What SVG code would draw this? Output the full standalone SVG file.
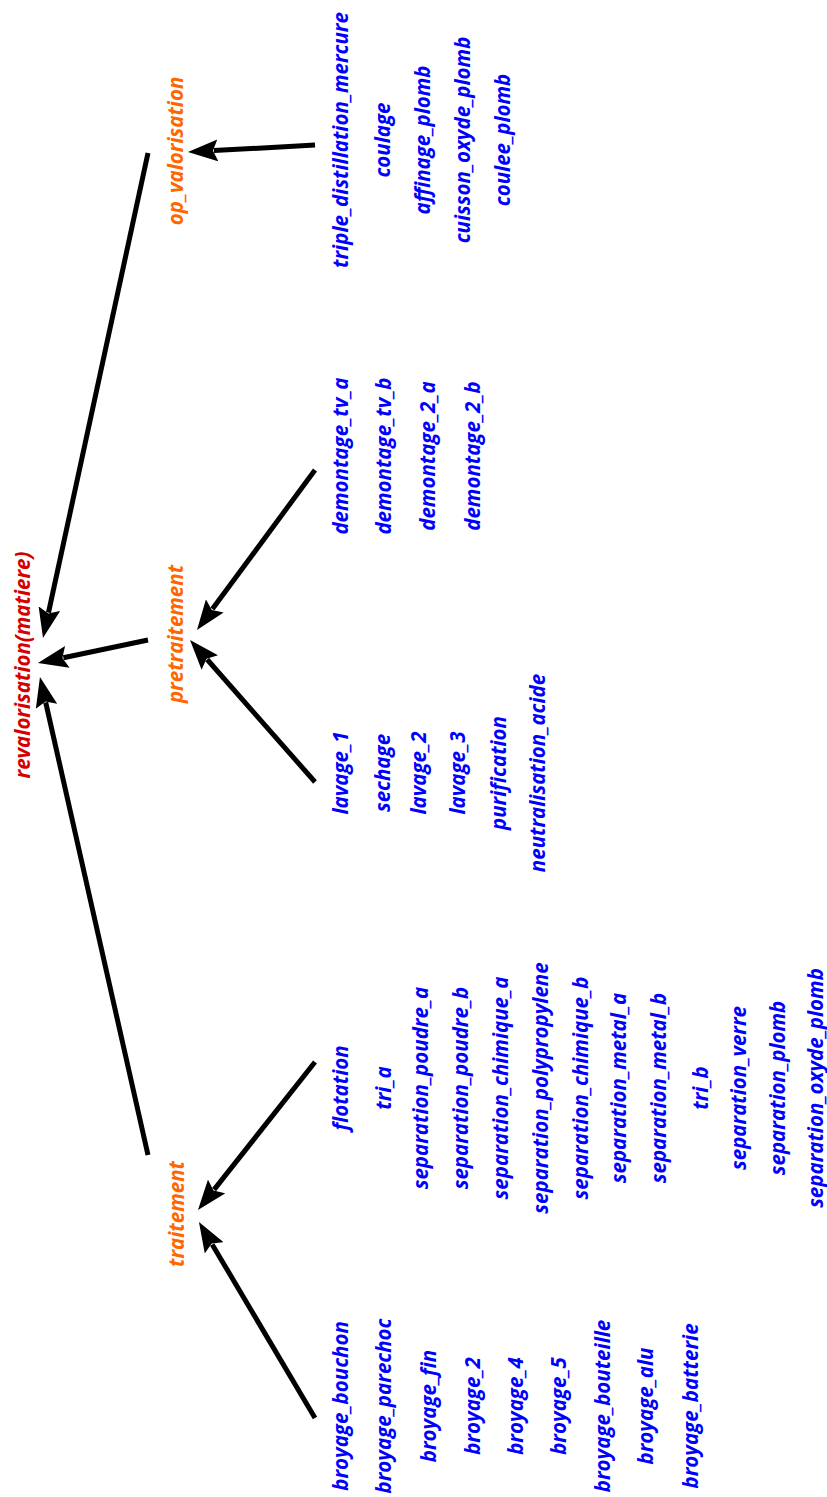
<svg xmlns="http://www.w3.org/2000/svg" width="827" height="1497" viewBox="0 0 827 1497">
<style>
text{font-family:"Open Sans","DejaVu Sans",sans-serif;font-weight:bold;font-style:italic;font-size:20.5px;text-anchor:middle;dominant-baseline:central}
.root{fill:#d40000}
.mid{fill:#ff6600}
.leaf{fill:#0000ff}
.edge{stroke:#000;stroke-width:5;fill:none}
</style>
<defs>
<marker id="ah" viewBox="0 -11 30 22" refX="4" refY="0" markerWidth="30" markerHeight="22" markerUnits="userSpaceOnUse" orient="auto">
<path d="M0,-11 L30,0 L0,11 L5,0 z" fill="#000"/>
</marker>
</defs>
<rect width="827" height="1497" fill="#fff"/>
<g id="connectors">
<line class="edge" x1="315" y1="145" x2="213.9" y2="150.6" marker-end="url(#ah)"/>
<line class="edge" x1="148" y1="153" x2="48.5" y2="612.6" marker-end="url(#ah)"/>
<line class="edge" x1="148" y1="640" x2="63.4" y2="657.7" marker-end="url(#ah)"/>
<line class="edge" x1="148" y1="1155" x2="45.7" y2="702.4" marker-end="url(#ah)"/>
<line class="edge" x1="315" y1="470" x2="212.4" y2="609.1" marker-end="url(#ah)"/>
<line class="edge" x1="315" y1="782" x2="207.2" y2="659.5" marker-end="url(#ah)"/>
<line class="edge" x1="315" y1="1062" x2="214.1" y2="1189.6" marker-end="url(#ah)"/>
<line class="edge" x1="315" y1="1418" x2="212.2" y2="1244.4" marker-end="url(#ah)"/>
</g>
<g id="revalorisation"><text class="root" transform="translate(22,665) rotate(-90)">revalorisation(matiere)</text></g>
<g id="op_valorisation"><text class="mid" transform="translate(175,151) rotate(-90)">op_valorisation</text></g>
<g id="pretraitement"><text class="mid" transform="translate(175,634) rotate(-90)">pretraitement</text></g>
<g id="traitement"><text class="mid" transform="translate(176,1214) rotate(-90)">traitement</text></g>
<g id="op_valorisation_leaves">
<text class="leaf" transform="translate(340,140) rotate(-90)">triple_distillation_mercure</text>
<text class="leaf" transform="translate(382,140) rotate(-90)">coulage</text>
<text class="leaf" transform="translate(422,140) rotate(-90)">affinage_plomb</text>
<text class="leaf" transform="translate(462,140) rotate(-90)">cuisson_oxyde_plomb</text>
<text class="leaf" transform="translate(502,140) rotate(-90)">coulee_plomb</text>
</g>
<g id="demontage_leaves">
<text class="leaf" transform="translate(340,456) rotate(-90)">demontage_tv_a</text>
<text class="leaf" transform="translate(383,456) rotate(-90)">demontage_tv_b</text>
<text class="leaf" transform="translate(427,456) rotate(-90)">demontage_2_a</text>
<text class="leaf" transform="translate(472,456) rotate(-90)">demontage_2_b</text>
</g>
<g id="lavage_leaves">
<text class="leaf" transform="translate(340,773) rotate(-90)">lavage_1</text>
<text class="leaf" transform="translate(382,773) rotate(-90)">sechage</text>
<text class="leaf" transform="translate(418,773) rotate(-90)">lavage_2</text>
<text class="leaf" transform="translate(457,773) rotate(-90)">lavage_3</text>
<text class="leaf" transform="translate(498,773) rotate(-90)">purification</text>
<text class="leaf" transform="translate(537,773) rotate(-90)">neutralisation_acide</text>
</g>
<g id="separation_leaves">
<text class="leaf" transform="translate(340,1088) rotate(-90)">flotation</text>
<text class="leaf" transform="translate(383,1088) rotate(-90)">tri_a</text>
<text class="leaf" transform="translate(420,1088) rotate(-90)">separation_poudre_a</text>
<text class="leaf" transform="translate(460,1088) rotate(-90)">separation_poudre_b</text>
<text class="leaf" transform="translate(500,1088) rotate(-90)">separation_chimique_a</text>
<text class="leaf" transform="translate(540,1088) rotate(-90)">separation_polypropylene</text>
<text class="leaf" transform="translate(580,1088) rotate(-90)">separation_chimique_b</text>
<text class="leaf" transform="translate(618,1088) rotate(-90)">separation_metal_a</text>
<text class="leaf" transform="translate(658,1088) rotate(-90)">separation_metal_b</text>
<text class="leaf" transform="translate(700,1088) rotate(-90)">tri_b</text>
<text class="leaf" transform="translate(738,1088) rotate(-90)">separation_verre</text>
<text class="leaf" transform="translate(777,1088) rotate(-90)">separation_plomb</text>
<text class="leaf" transform="translate(815,1088) rotate(-90)">separation_oxyde_plomb</text>
</g>
<g id="broyage_leaves">
<text class="leaf" transform="translate(340,1406) rotate(-90)">broyage_bouchon</text>
<text class="leaf" transform="translate(383,1406) rotate(-90)">broyage_parechoc</text>
<text class="leaf" transform="translate(428,1406) rotate(-90)">broyage_fin</text>
<text class="leaf" transform="translate(472,1406) rotate(-90)">broyage_2</text>
<text class="leaf" transform="translate(515,1406) rotate(-90)">broyage_4</text>
<text class="leaf" transform="translate(558,1406) rotate(-90)">broyage_5</text>
<text class="leaf" transform="translate(602,1406) rotate(-90)">broyage_bouteille</text>
<text class="leaf" transform="translate(645,1406) rotate(-90)">broyage_alu</text>
<text class="leaf" transform="translate(690,1406) rotate(-90)">broyage_batterie</text>
</g>
</svg>
